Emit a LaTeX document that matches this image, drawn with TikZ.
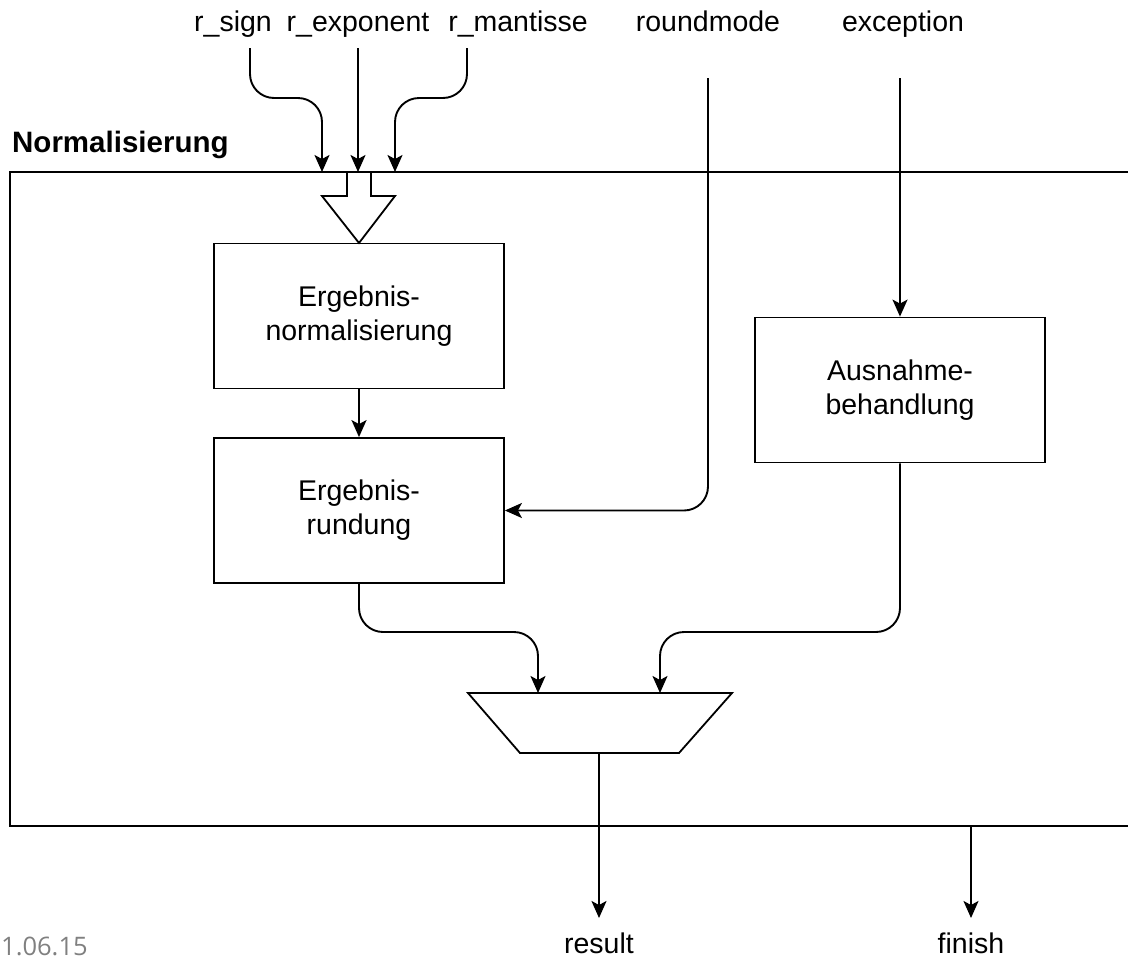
\documentclass[tikz,border=0pt]{standalone}
\usepackage{fontspec}
\setmainfont{Liberation Sans}
\newfontfamily\datefont{Open Sans}
\usetikzlibrary{arrows.meta}
\begin{document}
\begin{tikzpicture}[x=1pt,y=-1pt,
  txt/.style={font=\fontsize{28.5}{34}\selectfont, align=center, inner sep=0pt},
  blk/.style={draw, line width=1.8pt, minimum width=290pt, minimum height=145pt, txt},
  conn/.style={line width=1.9pt, -{Stealth[length=17pt,width=15pt,inset=4pt]}},
  plain/.style={line width=1.8pt}]
\useasboundingbox (0,0) rectangle (1128,959);
\clip (0,0) rectangle (1128,959);
% frame
\draw[line width=2.5pt] (1140,172) -- (10,172) -- (10,826) -- (1140,826);
\node[txt, font=\bfseries\fontsize{29.5}{34}\selectfont, anchor=base west] (title) at (12,152) {Normalisierung};
% top labels
\node[txt, anchor=base] (lsign) at (233,31) {r\_sign};
\node[txt, anchor=base] (lexp) at (358,31) {r\_exponent};
\node[txt, anchor=base] (lman) at (518,31) {r\_mantisse};
\node[txt, anchor=base] (lround) at (708,31) {roundmode};
\node[txt, anchor=base] (lexc) at (903,31) {exception};
\coordinate (csign) at (250,48);
\coordinate (cexp) at (358,48);
\coordinate (cman) at (467,48);
\coordinate (cround) at (708,78);
\coordinate (cexc) at (900,78);
\coordinate (tsign) at (322,172);
\coordinate (texp) at (358,172);
\coordinate (tman) at (395,172);
% blocks
\node[blk] (norm) at (359,316) {Ergebnis-\\normalisierung};
\node[blk] (rund) at (359,510.5) {Ergebnis-\\rundung};
\node[blk] (ausn) at (900,390) {Ausnahme-\\behandlung};
% block arrow
\draw[line width=1.8pt, fill=white] (347,172) -- (371,172) -- (371,196) -- (395,196) -- (359,243) -- (322,196) -- (347,196) -- cycle;
% multiplexer
\draw[plain, fill=white] (468,693) -- (732,693) -- (679,753) -- (520,753) -- cycle;
\coordinate (min1) at (538,693);
\coordinate (min2) at (660,693);
\coordinate (mout) at (599,753);
\coordinate (ffin) at (971,826);
% outputs
\node[txt, anchor=base] (lres) at (599,953) {result};
\node[txt, anchor=base] (lfin) at (971,953) {finish};
\node[font=\datefont\fontsize{25.5}{30}\selectfont, text=black!50, anchor=base west, inner sep=0pt] (date) at (1,955) {1.06.15};
% connectors
\draw[conn, rounded corners=24pt] (csign) -- (250,98) -- (322,98) -- (tsign);
\draw[conn] (cexp) -- (texp);
\draw[conn, rounded corners=24pt] (cman) -- (467,98) -- (395,98) -- (tman);
\draw[conn] (norm.south) -- (rund.north);
\draw[conn, rounded corners=24pt] (cround) -- (708,510.5) -- (rund.east);
\draw[conn] (cexc) -- (ausn.north);
\draw[conn, rounded corners=24pt] (rund.south) -- (359,632) -- (538,632) -- (min1);
\draw[conn, rounded corners=24pt] (ausn.south) -- (900,632) -- (660,632) -- (min2);
\draw[conn] (mout) -- (lres.north |- 0,918);
\draw[conn] (ffin) -- (lfin.north |- 0,918);
\end{tikzpicture}
\end{document}
